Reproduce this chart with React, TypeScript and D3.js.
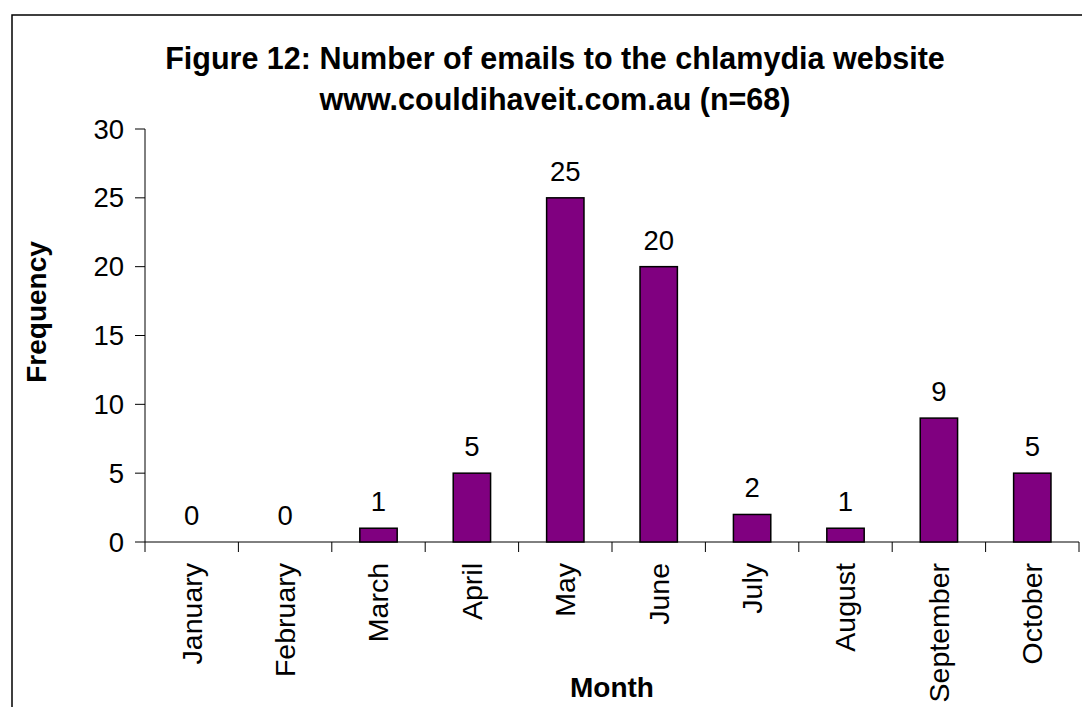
import React from 'react'
import * as d3 from 'd3'

const months = ['January', 'February', 'March', 'April', 'May', 'June', 'July', 'August', 'September', 'October']
const emails = [0, 0, 1, 5, 25, 20, 2, 1, 9, 5]
const yTicks = [0, 5, 10, 15, 20, 25, 30]
const titleLines = ['Figure 12: Number of emails to the chlamydia website', 'www.couldihaveit.com.au (n=68)']

const W = 1082, H = 707
const left = 145, right = 1079, top = 129, bottom = 542
const font = '"Liberation Sans", Arial, sans-serif'

export default function App() {
  const x = d3.scaleBand<string>()
    .domain(months)
    .range([left, right])
    .paddingInner(0.6)
    .paddingOuter(0.3)
  const y = d3.scaleLinear().domain([0, 30]).range([bottom, top])
  const step = x.step()

  return (
    <svg width={W} height={H} style={{ position: 'absolute', left: 0, top: 0 }} fontFamily={font}>
      <rect x={12} y={15} width={W + 20} height={H + 20} fill="white" stroke="#000" strokeWidth={1.5} />
      {titleLines.map((t, i) => (
        <text key={t} x={555} y={69 + i * 41} textAnchor="middle" fontSize={30.5} fontWeight="bold">{t}</text>
      ))}
      {/* y axis */}
      <line x1={left} x2={left} y1={top} y2={bottom} stroke="#000" />
      {yTicks.map(t => (
        <g key={t}>
          <line x1={left - 10} x2={left} y1={y(t)} y2={y(t)} stroke="#000" />
          <text x={left - 21} y={y(t)} dy="0.35em" textAnchor="end" fontSize={27.5}>{t}</text>
        </g>
      ))}
      {/* x axis */}
      <line x1={left} x2={right} y1={bottom} y2={bottom} stroke="#000" />
      {d3.range(months.length + 1).map(i => (
        <line key={i} x1={left + i * step} x2={left + i * step} y1={bottom} y2={bottom + 10} stroke="#000" />
      ))}
      {months.map((m, i) => {
        const cx = left + (i + 0.5) * step
        return (
          <text key={m} transform={`translate(${cx},${bottom + 21}) rotate(-90)`} dy="0.35em" textAnchor="end" fontSize={28.5}>{m}</text>
        )
      })}
      {/* bars */}
      {months.map((m, i) => (
        <g key={m}>
          {emails[i] > 0 && (
            <rect x={x(m)} y={y(emails[i])} width={x.bandwidth()} height={bottom - y(emails[i])}
              fill="#800080" stroke="#000" strokeWidth={1.5} />
          )}
          <text x={x(m)! + x.bandwidth() / 2} y={y(emails[i]) - 17} textAnchor="middle" fontSize={27.5}>{emails[i]}</text>
        </g>
      ))}
      <text transform={`translate(46,312) rotate(-90)`} textAnchor="middle" fontSize={28} fontWeight="bold">Frequency</text>
      <text x={612} y={697} textAnchor="middle" fontSize={28} fontWeight="bold">Month</text>
    </svg>
  )
}
